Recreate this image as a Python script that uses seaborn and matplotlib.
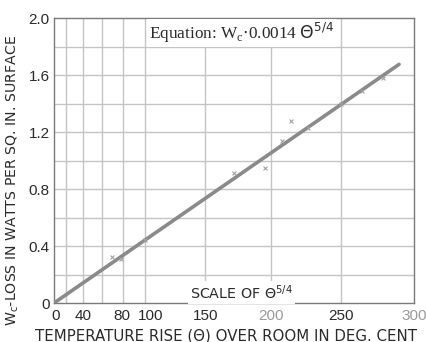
import numpy as np
import pandas as pd
import matplotlib
matplotlib.use("Agg")
import matplotlib.pyplot as plt
import matplotlib.transforms as mtransforms
import seaborn as sns

# Temperature rise (deg C) and measured loss (W per sq. in.)
theta_obs = [70, 78, 100, 172, 196, 208, 215, 227, 250, 265, 279]
wc_obs = [0.32, 0.31, 0.44, 0.91, 0.95, 1.14, 1.28, 1.23, 1.40, 1.49, 1.58]

# Fitted law Wc = k * theta^(5/4)
k_coeff = 0.0014
exponent = 1.25
theta_fit = [0, 290]

# Axis labelling in degrees (placed on the theta^(5/4) scale)
x_tick_deg = [0, 40, 80, 100, 150, 200, 250, 300]
x_grid_deg = [20, 40, 60, 80, 100, 150, 200, 250]
y_ticks = [0, 0.4, 0.8, 1.2, 1.6, 2.0]
y_tick_labels = ["0", "0.4", "0.8", "1.2", "1.6", "2.0"]

sns.set_style("white")
plt.rcParams["font.family"] = ["Liberation Sans", "DejaVu Sans"]

fig = plt.figure(figsize=(4.27, 3.42), dpi=100)
ax = fig.add_axes([0.1265, 0.114, 0.843, 0.833])

def scale(t):
    return np.asarray(t, dtype=float) ** exponent

fit_df = pd.DataFrame({"x": scale(theta_fit),
                       "wc": k_coeff * scale(theta_fit)})
obs_df = pd.DataFrame({"x": scale(theta_obs), "wc": wc_obs})

grid_c = "#c4c4c4"
for g in scale(x_grid_deg):
    ax.axvline(g, color=grid_c, lw=1.0, zorder=0)
for g in np.arange(0.2, 2.0, 0.2):
    ax.axhline(g, color=grid_c, lw=1.0, zorder=0)

sns.lineplot(data=fit_df, x="x", y="wc", ax=ax, color="#8a8a8a",
             lw=2.6, zorder=3)
sns.scatterplot(data=obs_df, x="x", y="wc", ax=ax, marker="x",
                color="#a0a0a0", s=8, linewidth=0.8, zorder=4)

ax.set_xlim(0, scale(300))
ax.set_ylim(0, 2.0)

ax.set_xticks(scale(x_tick_deg))
ax.set_xticklabels([str(v) for v in x_tick_deg])
ax.set_yticks(y_ticks)
ax.set_yticklabels(y_tick_labels)
ax.tick_params(axis="both", length=0, labelsize=11, colors="#2a2a2a")
ax.tick_params(axis="x", pad=4)
ax.tick_params(axis="y", pad=3)

# crowded labels at the low end get nudged apart
nudge_px = {"0": 2, "80": -1, "100": 5}
for lbl in ax.get_xticklabels():
    txt = lbl.get_text()
    if txt in ("200", "300"):
        lbl.set_color("#9a9a9a")
    if txt in nudge_px:
        off = mtransforms.ScaledTranslation(nudge_px[txt] / 100, 0,
                                            fig.dpi_scale_trans)
        lbl.set_transform(lbl.get_transform() + off)

for s in ax.spines.values():
    s.set_color("#7a7a7a")
    s.set_linewidth(1.0)

ax.set_xlabel("TEMPERATURE RISE (Θ) OVER ROOM IN DEG. CENT",
              fontsize=10.8, color="#2a2a2a", family="DejaVu Sans")
ax.set_ylabel("W$_\\mathregular{c}$-LOSS IN WATTS PER SQ. IN. SURFACE",
              fontsize=10.2, color="#2a2a2a", family="DejaVu Sans")
ax.xaxis.set_label_coords(0.478, -0.088)
ax.yaxis.set_label_coords(-0.092, 0.43)

ax.text(scale(103), 1.895,
        "Equation: W$_\\mathregular{c}$$\\cdot$0.0014 $\\Theta^{5/4}$",
        fontsize=12.4, family="Liberation Serif", color="#2a2a2a",
        va="center", ha="left", zorder=5,
        bbox=dict(facecolor="white", edgecolor="none", pad=1.5))
ax.text(scale(138), 0.075, "SCALE OF $\\Theta^{5/4}$",
        fontsize=10.3, color="#2a2a2a", va="center", ha="left", zorder=5,
        family="DejaVu Sans",
        bbox=dict(facecolor="white", edgecolor="none", pad=1.5))

fig.savefig("out.png", dpi=100, facecolor="white")
